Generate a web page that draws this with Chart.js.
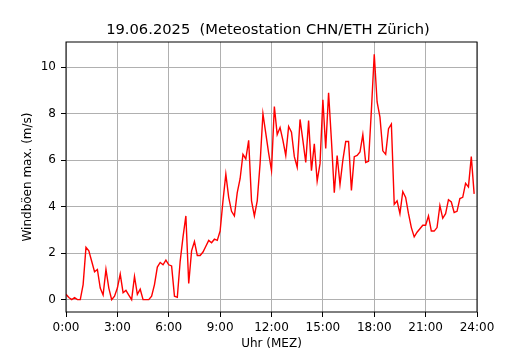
<!DOCTYPE html>
<html>
<head>
<meta charset="utf-8">
<script src="https://cdn.jsdelivr.net/npm/chart.js@4"></script>
<style>
  html, body { margin: 0; padding: 0; background: #fff; }
  canvas { display: block; }
</style>
</head>
<body>
<canvas id="wind" width="530" height="350"></canvas>
<script>
// Windböen max. (m/s), ein Wert alle 10 Minuten ab 0:00
var windMax = [
  0.23, 0.09, 0.0, 0.09, 0.0, 0.0,      // 0:00
  0.65, 2.25, 2.1, 1.65, 1.2, 1.3,      // 1:00
  0.5, 0.2, 1.3, 0.5, 0.0, 0.15,        // 2:00
  0.5, 1.1, 0.3, 0.4, 0.2, 0.0,         // 3:00
  1.0, 0.23, 0.45, 0.0, 0.0, 0.0,       // 4:00
  0.15, 0.65, 1.4, 1.6, 1.5, 1.7,       // 5:00
  1.5, 1.45, 0.15, 0.1, 1.65, 2.7,      // 6:00
  3.6, 0.7, 2.1, 2.5, 1.9, 1.9,         // 7:00
  2.05, 2.3, 2.55, 2.45, 2.6, 2.55,     // 8:00
  2.95, 4.25, 5.4, 4.4, 3.8, 3.6,       // 9:00
  4.6, 5.2, 6.25, 6.05, 6.85, 4.25,     // 10:00
  3.6, 4.25, 5.85, 8.0, 7.15, 6.3,      // 11:00
  5.55, 8.3, 7.1, 7.4, 6.85, 6.2,       // 12:00
  7.45, 7.2, 6.15, 5.7, 7.75, 6.85,     // 13:00
  5.9, 7.7, 5.55, 6.7, 5.1, 5.85,       // 14:00
  8.6, 6.5, 8.9, 6.85, 4.6, 6.2,        // 15:00
  4.95, 6.0, 6.8, 6.8, 4.7, 6.15,       // 16:00
  6.2, 6.35, 7.1, 5.9, 5.95, 8.15,      // 17:00
  10.55, 8.5, 7.85, 6.4, 6.25, 7.35,    // 18:00
  7.55, 4.1, 4.25, 3.7, 4.65, 4.4,      // 19:00
  3.7, 3.1, 2.7, 2.9, 3.05, 3.2,        // 20:00
  3.2, 3.6, 2.95, 2.95, 3.1, 4.05,      // 21:00
  3.5, 3.7, 4.3, 4.2, 3.75, 3.8,        // 22:00
  4.35, 4.4, 5.0, 4.85, 6.15, 4.55      // 23:00
];
var stepMinutes = 10;
var xTicks = [0, 3, 6, 9, 12, 15, 18, 21, 24];
var yTicks = [0, 2, 4, 6, 8, 10];
var titleText = '19.06.2025  (Meteostation CHN/ETH Zürich)';

Chart.defaults.font.family = 'DejaVu Sans';
Chart.defaults.color = '#000';

var points = windMax.map(function (v, i) {
  return { x: i * stepMinutes / 60, y: v };
});

// schwarzer Rahmen um die Plotfläche
var frame = {
  id: 'frame',
  afterDatasetsDraw: function (chart) {
    var a = chart.chartArea, c = chart.ctx;
    c.save();
    c.strokeStyle = '#000';
    c.lineWidth = 1;
    c.strokeRect(a.left, a.top, a.right - a.left, a.bottom - a.top);
    c.restore();
  }
};

var ctx = document.getElementById('wind');
var myChart = new Chart(ctx, {
  type: 'line',
  data: {
    datasets: [{
      label: 'Windböen max.',
      data: points,
      borderColor: '#ff0000',
      borderWidth: 1.4,
      pointRadius: 0,
      tension: 0,
      fill: false
    }]
  },
  plugins: [frame],
  options: {
    responsive: false,
    animation: false,
    layout: { padding: { left: 6, right: 0, top: 0, bottom: 0 } },
    plugins: {
      legend: { display: false },
      tooltip: { enabled: false },
      title: {
        display: true,
        text: titleText,
        font: { size: 14.7, weight: 'normal', lineHeight: 1.2 },
        padding: { top: 21.7, bottom: 2.66 }
      }
    },
    scales: {
      x: {
        type: 'linear',
        min: 0,
        max: 24,
        afterBuildTicks: function (s) { s.ticks = xTicks.map(function (v) { return { value: v }; }); },
        afterFit: function (s) { s.height = 38; },
        ticks: {
          font: { size: 12 },
          padding: 4,
          maxRotation: 0,
          autoSkip: false,
          callback: function (v) { return v + ':00'; }
        },
        grid: { color: '#b0b0b0', lineWidth: 1, tickLength: 5, tickColor: '#000' },
        border: { display: false },
        title: { display: true, text: 'Uhr (MEZ)', font: { size: 12, lineHeight: 1 }, padding: 0 }
      },
      y: {
        min: -0.53,
        max: 11.08,
        afterBuildTicks: function (s) { s.ticks = yTicks.map(function (v) { return { value: v }; }); },
        afterFit: function (s) { s.width = 60; },
        ticks: { font: { size: 12 }, padding: 5 },
        grid: { color: '#b0b0b0', lineWidth: 1, tickLength: 5, tickColor: '#000' },
        border: { display: false },
        title: { display: true, text: 'Windböen max. (m/s)', font: { size: 12, lineHeight: 1 }, padding: { top: 15.5, bottom: 15.5 } }
      },
      rightSpace: {
        position: 'right',
        display: true,
        afterFit: function (s) { s.width = 53; },
        ticks: { display: false },
        grid: { display: false },
        border: { display: false }
      }
    }
  }
});
</script>
</body>
</html>
